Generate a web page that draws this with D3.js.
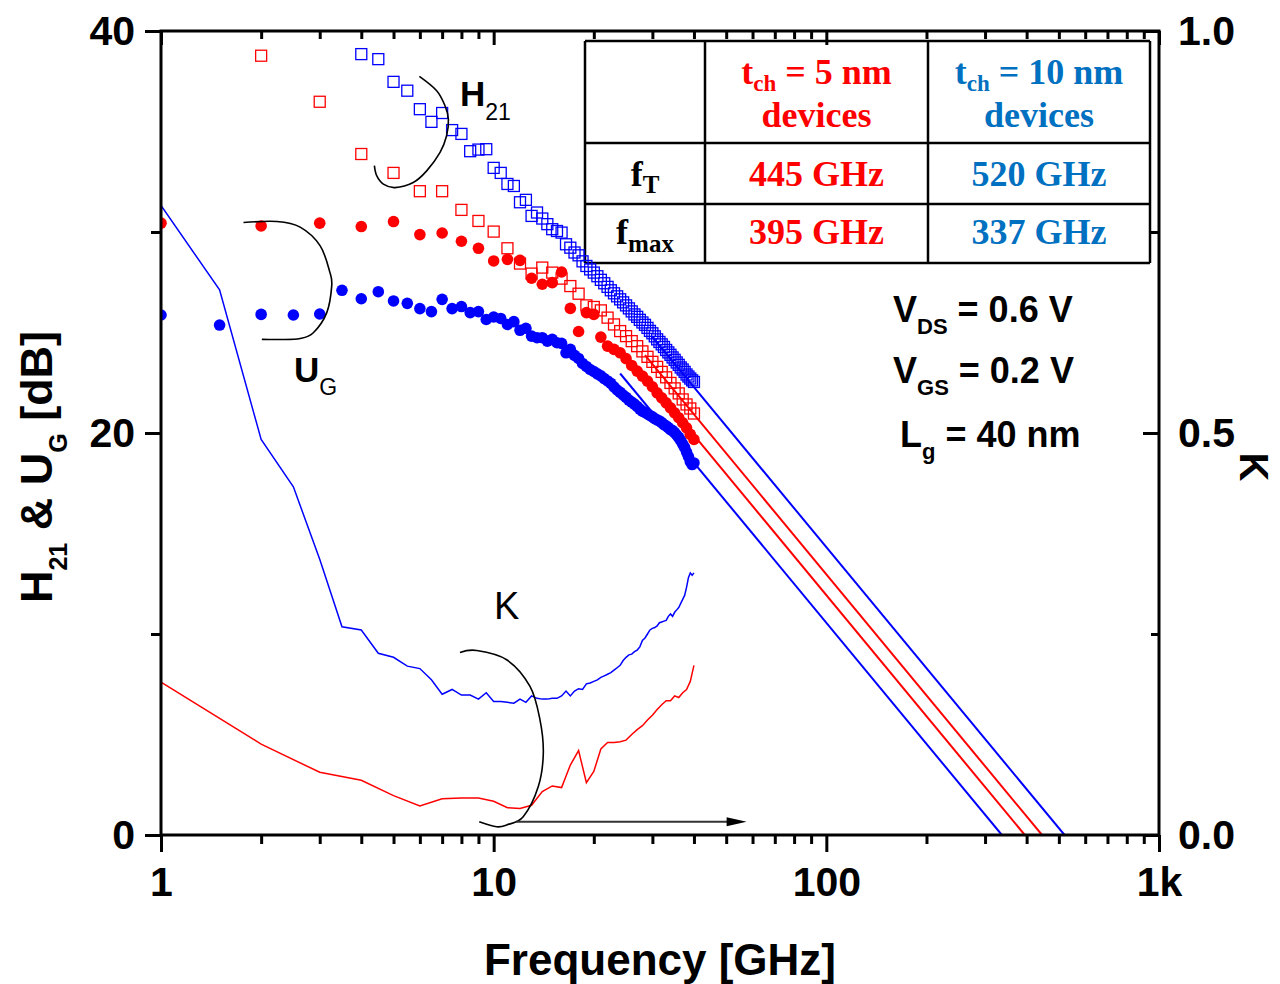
<!DOCTYPE html>
<html>
<head>
<meta charset="utf-8">
<script src="https://cdn.jsdelivr.net/npm/d3@7"></script>
<style>
  body { margin: 0; background: #fff; }
  svg { display: block; font-family: "Liberation Sans", Arial, sans-serif; }
  .serif { font-family: "Liberation Serif", "Times New Roman", serif; font-weight: bold; }
</style>
</head>
<body>
<svg id="chart" width="1280" height="984"></svg>
<script>
// measured frequencies (GHz): 5 nm device every 1 GHz, 10 nm device every 0.5 GHz
const freq5 = d3.range(1, 41)
const freq10 = d3.range(1, 40.5, 0.5)

// t_ch = 5 nm (red) - H21 [dB], U_G [dB], K
const h21_5 = [null, 38.77, 36.48, 33.88, 32.94, 32.03, 32.03, 31.10, 30.55, 30.02,
    29.19, 28.43, 27.93, 28.23, 27.98, 27.68, 27.31, 26.93, 26.35, 26.27,
    26.10, 25.74, 25.40, 25.07, 24.82, 24.57, 24.32, 24.06, 23.79, 23.54,
    23.29, 23.04, 22.77, 22.49, 22.22, 21.97, 21.67, 21.42, 21.22, 20.97]
const ug_5 = [30.44, 30.30, 30.44, 30.27, 30.52, 29.87, 29.95, 29.54, 29.19, 28.56,
    28.64, 28.59, 27.70, 27.40, 27.48, 28.01, 26.20, 25.05, 25.99, 25.90,
    24.77, 24.32, 24.16, 23.99, 23.70, 23.36, 23.08, 22.83, 22.58, 22.30,
    22.00, 21.75, 21.50, 21.25, 21.00, 20.76, 20.51, 20.26, 19.93, 19.68]
const k_5 = [0.190, 0.113, 0.078, 0.068, 0.049, 0.036, 0.045, 0.046, 0.046, 0.042,
    0.034, 0.033, 0.037, 0.054, 0.061, 0.059, 0.087, 0.105, 0.065, 0.079,
    0.107, 0.115, 0.115, 0.116, 0.118, 0.125, 0.131, 0.136, 0.143, 0.149,
    0.156, 0.162, 0.167, 0.167, 0.173, 0.171, 0.177, 0.181, 0.191, 0.211]

// t_ch = 10 nm (blue)
const h21_10 = [null, null, null, null, null, null,
    38.85, 38.60, 37.47, 37.03, 36.11, 35.48, 35.92, 35.07, 34.88, 34.02,
    34.10, 34.12, 33.19, 32.94, 32.39, 32.29, 31.48, 31.60, 30.80, 30.97,
    30.67, 30.39, 30.14, 30.05, 29.97, 29.39, 29.22, 28.98, 28.84, 28.54,
    28.31, 28.14, 27.98, 27.80, 27.62, 27.45, 27.27, 27.10, 26.95, 26.80,
    26.65, 26.50, 26.35, 26.20, 26.05, 25.90, 25.78, 25.63, 25.50, 25.38,
    25.23, 25.08, 24.96, 24.81, 24.66, 24.53, 24.41, 24.28, 24.13, 24.01,
    23.89, 23.76, 23.64, 23.51, 23.39, 23.26, 23.16, 23.04, 22.91, 22.81,
    22.71, 22.62, 22.54]
const ug_10 = [25.87, 25.37, 25.90, 25.87, 25.92, 27.10, 26.68, 27.03,
    26.57, 26.45, 26.19, 26.04, 26.65, 26.19, 26.29, 25.99, 26.04, 25.65,
    25.77, 25.70, 25.40, 25.54, 25.11, 25.21, 24.82, 24.74, 24.74, 24.57,
    24.66, 24.49, 24.46, 23.99, 24.16, 23.86, 23.71, 23.46, 23.31, 23.16,
    23.06, 22.94, 22.84, 22.71, 22.59, 22.47, 22.29, 22.14, 22.02, 21.89,
    21.77, 21.64, 21.54, 21.44, 21.32, 21.19, 21.09, 21.02, 20.95, 20.87,
    20.80, 20.72, 20.65, 20.60, 20.52, 20.42, 20.35, 20.27, 20.17, 20.12,
    20.02, 19.90, 19.78, 19.63, 19.45, 19.28, 19.05, 18.83, 18.58, 18.43,
    18.51]
const k_10 = [0.783, 0.678, 0.492, 0.433, 0.343, 0.259, 0.255, 0.226,
    0.221, 0.210, 0.207, 0.193, 0.175, 0.181, 0.174, 0.174, 0.169, 0.177,
    0.166, 0.166, 0.165, 0.164, 0.169, 0.165, 0.173, 0.170, 0.169, 0.169,
    0.170, 0.170, 0.173, 0.179, 0.173, 0.179, 0.182, 0.181, 0.188, 0.189,
    0.191, 0.193, 0.196, 0.198, 0.200, 0.202, 0.205, 0.208, 0.211, 0.217,
    0.221, 0.224, 0.225, 0.228, 0.230, 0.234, 0.242, 0.245, 0.250, 0.255,
    0.257, 0.258, 0.260, 0.264, 0.265, 0.266, 0.267, 0.272, 0.275, 0.272,
    0.277, 0.280, 0.283, 0.288, 0.293, 0.298, 0.308, 0.320, 0.326, 0.323,
    0.326]

// table values and -20 dB/dec extrapolations
const devices = ['5 nm', '10 nm']
const tableColors = ['#ff0000', '#0070c0']
const seriesColors = ['#ff0000', '#0000ff']
const fT = [445, 520]
const fMax = [395, 337]
// start point of each extrapolation line [GHz, dB]
const fitStartT = [[28.5, 23.87], [30, 24.78]]
const fitStartMax = [[28, 22.99], [24, 22.96]]

// axis ticks
const xTicks = [1, 10, 100, 1000]
const xTickLabels = ['1', '10', '100', '1k']
const yTicks = [0, 20, 40]
const yMinorTicks = [10, 30]
const kTicks = [0, 0.5, 1]
const kMinorTicks = [0.25, 0.75]

// bias conditions
const biasText = [['V', 'DS', ' = 0.6 V'], ['V', 'GS', ' = 0.2 V'], ['L', 'g', ' = 40 nm']]

// annotation outlines [GHz, dB]
const h21Arc = [[5.98, 37.74], [6.74, 37.03], [7.14, 36.28], [7.31, 35.61], [7.22, 34.79], [6.90, 33.96],
    [6.29, 33.04], [5.73, 32.46], [5.05, 32.21], [4.66, 32.38], [4.45, 32.80], [4.38, 33.30]]
const ugArc = [[1.77, 30.47], [2.23, 30.52], [2.62, 30.24], [3.01, 29.31], [3.22, 27.98], [3.26, 27.32],
    [3.15, 25.99], [2.87, 24.99], [2.62, 24.70], [2.28, 24.65], [2.01, 24.66]]
const kArc = [[7.92, 9.08], [8.89, 9.18], [10.94, 8.72], [12.86, 7.39], [13.78, 5.73], [14.10, 4.07],
    [13.62, 2.41], [12.27, 0.91], [10.94, 0.50], [10.21, 0.41], [9.05, 0.66]]
const kArrow = [[11.7, 0.66], [57.6, 0.66]]

const plot = { left: 161, right: 1159, top: 31, bottom: 835 }
const svg = d3.select('#chart')

const x = d3.scaleLog().domain([1, 1000]).range([plot.left, plot.right])
const y = d3.scaleLinear().domain([0, 40]).range([plot.bottom, plot.top])
const yK = d3.scaleLinear().domain([0, 1]).range([plot.bottom, plot.top])
const xMinorTicks = x.ticks().filter(d => !xTicks.includes(d))

function styleAxis(g, fontSize) {
    g.select('.domain').remove()
    g.selectAll('.tick line').attr('stroke', '#000').attr('stroke-width', 3)
    g.selectAll('.tick text')
        .attr('fill', '#000')
        .style('font-size', fontSize + 'px')
        .style('font-weight', 'bold')
        .style('font-family', '"Liberation Sans", Arial, sans-serif')
}

// bottom axis
svg.append('g').attr('transform', `translate(0,${plot.bottom})`)
    .call(d3.axisBottom(x).tickValues(xTicks).tickFormat((d, i) => xTickLabels[i]).tickSize(17).tickPadding(15))
    .call(g => styleAxis(g, 41))
svg.append('g').attr('transform', `translate(0,${plot.bottom})`)
    .call(d3.axisBottom(x).tickValues(xMinorTicks).tickFormat('').tickSize(9))
    .call(g => styleAxis(g, 0))
// top axis, ticks inside
svg.append('g').attr('transform', `translate(0,${plot.top})`)
    .call(d3.axisTop(x).tickValues(xTicks).tickFormat('').tickSize(-14))
    .call(g => styleAxis(g, 0))
svg.append('g').attr('transform', `translate(0,${plot.top})`)
    .call(d3.axisTop(x).tickValues(xMinorTicks).tickFormat('').tickSize(-8))
    .call(g => styleAxis(g, 0))
// left axis
svg.append('g').attr('transform', `translate(${plot.left},0)`)
    .call(d3.axisLeft(y).tickValues(yTicks).tickSize(16).tickPadding(10))
    .call(g => styleAxis(g, 41))
svg.append('g').attr('transform', `translate(${plot.left},0)`)
    .call(d3.axisLeft(y).tickValues(yMinorTicks).tickFormat('').tickSize(10))
    .call(g => styleAxis(g, 0))
// right axis (K), ticks inside
svg.append('g').attr('transform', `translate(${plot.right},0)`)
    .call(d3.axisRight(yK).tickValues(kTicks).tickFormat(d3.format('.1f')).tickSize(-16).tickPadding(19))
    .call(g => styleAxis(g, 41))
svg.append('g').attr('transform', `translate(${plot.right},0)`)
    .call(d3.axisRight(yK).tickValues(kMinorTicks).tickFormat('').tickSize(-8))
    .call(g => styleAxis(g, 0))

// axis titles
svg.append('text')
    .attr('x', 660).attr('y', 975)
    .attr('text-anchor', 'middle')
    .style('font-size', '44px').style('font-weight', 'bold')
    .text('Frequency [GHz]')

const yTitle = svg.append('text')
    .attr('transform', 'translate(52,467) rotate(-90)')
    .attr('text-anchor', 'middle')
    .style('font-size', '45px').style('font-weight', 'bold')
yTitle.append('tspan').text('H')
yTitle.append('tspan').attr('dy', 15).style('font-size', '25px').text('21')
yTitle.append('tspan').attr('dy', -15).text(' & U')
yTitle.append('tspan').attr('dy', 15).style('font-size', '25px').text('G')
yTitle.append('tspan').attr('dy', -15).text(' [dB]')

svg.append('text')
    .attr('transform', 'translate(1240,467) rotate(90)')
    .attr('text-anchor', 'middle')
    .style('font-size', '40px').style('font-weight', 'bold')
    .text('K')

// table
const tableX = [585, 705, 928, 1150]
const tableY = [41, 143, 204, 263]
const table = svg.append('g').attr('class', 'serif')
tableX.forEach(px => table.append('line')
    .attr('x1', px).attr('x2', px).attr('y1', tableY[0]).attr('y2', tableY[3])
    .attr('stroke', '#000').attr('stroke-width', 2.5))
tableY.forEach(py => table.append('line')
    .attr('x1', tableX[0]).attr('x2', tableX[3]).attr('y1', py).attr('y2', py)
    .attr('stroke', '#000').attr('stroke-width', 2.5))

function subText(g, cx, cy, main, sub, rest, color, size, subSize, drop) {
    const t = g.append('text').attr('x', cx).attr('y', cy)
        .attr('text-anchor', 'middle').attr('fill', color).style('font-size', size + 'px')
    t.append('tspan').text(main)
    t.append('tspan').attr('dy', drop).style('font-size', subSize + 'px').text(sub)
    if (rest) t.append('tspan').attr('dy', -drop).text(rest)
    return t
}

devices.forEach((dev, i) => {
    const cx = (tableX[i + 1] + tableX[i + 2]) / 2
    subText(table, cx, 84, 't', 'ch', ` = ${dev}`, tableColors[i], 36, 23, 7)
    table.append('text').attr('x', cx).attr('y', 127).attr('text-anchor', 'middle')
        .attr('fill', tableColors[i]).style('font-size', '36px').text('devices')
    table.append('text').attr('x', cx).attr('y', 186).attr('text-anchor', 'middle')
        .attr('fill', tableColors[i]).style('font-size', '36px').text(`${fT[i]} GHz`)
    table.append('text').attr('x', cx).attr('y', 244).attr('text-anchor', 'middle')
        .attr('fill', tableColors[i]).style('font-size', '36px').text(`${fMax[i]} GHz`)
})
subText(table, 645, 186, 'f', 'T', null, '#000', 36, 25, 7)
subText(table, 645, 244, 'f', 'max', null, '#000', 36, 25, 8)

// data area
svg.append('clipPath').attr('id', 'clip')
    .append('rect').attr('x', plot.left).attr('y', plot.top)
    .attr('width', plot.right - plot.left).attr('height', plot.bottom - plot.top)
const area = svg.append('g').attr('clip-path', 'url(#clip)')

const pairs = (fs, vs) => fs.map((f, i) => [f, vs[i]]).filter(d => d[1] !== null)
const kLine = d3.line().x(d => x(d[0])).y(d => yK(d[1]))
const dbLine = d3.line().x(d => x(d[0])).y(d => y(d[1]))

// K curves
;[[freq10, k_10, 1], [freq5, k_5, 0]].forEach(([fs, vs, c]) => {
    area.append('path').datum(pairs(fs, vs))
        .attr('d', kLine).attr('fill', 'none')
        .attr('stroke', seriesColors[c]).attr('stroke-width', 1.5)
})

// U_G (filled circles)
;[[freq10, ug_10, 1], [freq5, ug_5, 0]].forEach(([fs, vs, c]) => {
    area.append('g').selectAll('circle').data(pairs(fs, vs)).join('circle')
        .attr('cx', d => x(d[0])).attr('cy', d => y(d[1])).attr('r', 5.8)
        .attr('fill', seriesColors[c])
})

// H21 (open squares)
;[[freq5, h21_5, 0], [freq10, h21_10, 1]].forEach(([fs, vs, c]) => {
    area.append('g').selectAll('rect').data(pairs(fs, vs)).join('rect')
        .attr('x', d => x(d[0]) - 5.5).attr('y', d => y(d[1]) - 5.5)
        .attr('width', 11).attr('height', 11)
        .attr('fill', 'none').attr('stroke', seriesColors[c]).attr('stroke-width', 1.3)
})

// -20 dB/dec extrapolations down to fT and fmax
devices.forEach((dev, i) => {
    area.append('path').datum([fitStartT[i], [fT[i], 0]])
        .attr('d', dbLine).attr('fill', 'none')
        .attr('stroke', seriesColors[i]).attr('stroke-width', 2)
    area.append('path').datum([fitStartMax[i], [fMax[i], 0]])
        .attr('d', dbLine).attr('fill', 'none')
        .attr('stroke', seriesColors[i]).attr('stroke-width', 2)
})

// annotation outlines
const arcLine = d3.line().x(d => x(d[0])).y(d => y(d[1])).curve(d3.curveCardinal)
;[h21Arc, ugArc, kArc].forEach(a => {
    svg.append('path').datum(a).attr('d', arcLine)
        .attr('fill', 'none').attr('stroke', '#000').attr('stroke-width', 1.6)
})
const ax0 = x(kArrow[0][0]), ax1 = x(kArrow[1][0]), ay = y(kArrow[0][1])
svg.append('line').attr('x1', ax0).attr('x2', ax1 - 18).attr('y1', ay).attr('y2', ay)
    .attr('stroke', '#333').attr('stroke-width', 2)
svg.append('path')
    .attr('d', `M${ax1 - 20},${ay - 4.5}L${ax1},${ay}L${ax1 - 20},${ay + 4.5}Z`)
    .attr('fill', '#000')

// annotation labels
const h21Label = svg.append('text').attr('x', 460).attr('y', 106).style('font-size', '35px')
h21Label.append('tspan').style('font-weight', 'bold').text('H')
h21Label.append('tspan').attr('dy', 14).style('font-size', '23px').text('21')
const ugLabel = svg.append('text').attr('x', 294).attr('y', 382).style('font-size', '35px')
ugLabel.append('tspan').style('font-weight', 'bold').text('U')
ugLabel.append('tspan').attr('dy', 13).style('font-size', '23px').text('G')
svg.append('text').attr('x', 494).attr('y', 619).style('font-size', '38px').text('K')

// bias conditions
const biasX = [893, 893, 900]
const biasY = [322, 383, 447]
biasText.forEach((b, i) => {
    const t = svg.append('text').attr('x', biasX[i]).attr('y', biasY[i])
        .style('font-size', '36px').style('font-weight', 'bold')
    t.append('tspan').text(b[0])
    t.append('tspan').attr('dy', 12).style('font-size', '22px').text(b[1])
    t.append('tspan').attr('dy', -12).text(b[2])
})

// frame
svg.append('rect')
    .attr('x', plot.left).attr('y', plot.top)
    .attr('width', plot.right - plot.left).attr('height', plot.bottom - plot.top)
    .attr('fill', 'none').attr('stroke', '#000').attr('stroke-width', 3)
</script>
</body>
</html>
